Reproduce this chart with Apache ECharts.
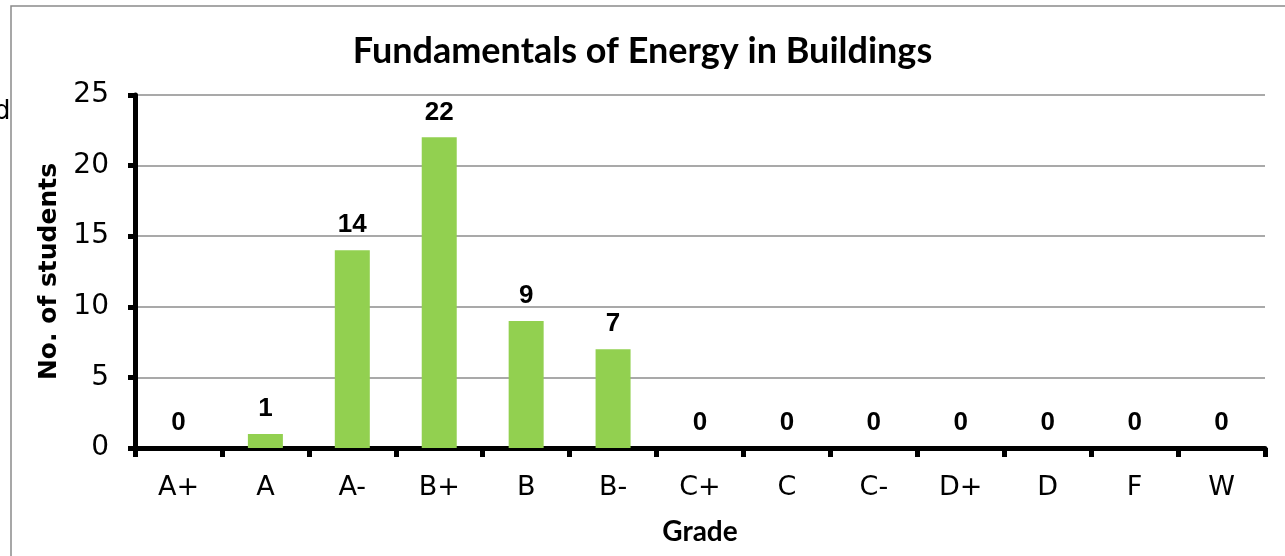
<!DOCTYPE html>
<html><head><meta charset="utf-8">
<script src="https://cdn.jsdelivr.net/npm/echarts@6/dist/echarts.min.js"></script>
<style>html,body{margin:0;padding:0;background:#fff}#c{width:1285px;height:556px}</style>
</head><body><div id="c"></div>
<script>
const categories = ['A+','A','A-','B+','B','B-','C+','C','C-','D+','D','F','W'];
const students = [0,1,14,22,9,7,0,0,0,0,0,0,0];
const yTicks = [0,5,10,15,20,25];
const titleText = 'Fundamentals of Energy in Buildings';
const xName = 'Grade';
const yName = 'No. of students';

const chart = echarts.init(document.getElementById('c'), null, {renderer:'canvas'});
chart.setOption({
  animation:false,
  backgroundColor:'#fff',
  title:{text:titleText,left:'center',top:28,
    textStyle:{fontFamily:'Lato',fontWeight:'bold',fontSize:36,color:'#000'}},
  graphic:[
    {type:'rect',shape:{x:11,y:6,width:1400,height:700},style:{fill:'none',stroke:'#8a8a8a',lineWidth:1.5},z:-1},
    {type:'text',x:-6,y:99,style:{text:'d',font:'26px "DejaVu Sans"',fill:'#000'}}
  ],
  grid:{left:135,right:20,top:95,bottom:108},
  xAxis:{type:'category',data:categories,
    name:xName,nameLocation:'middle',nameGap:70,
    nameTextStyle:{fontFamily:'Lato',fontWeight:'bold',fontSize:28,color:'#000'},
    axisLine:{lineStyle:{color:'#000',width:5}},
    axisTick:{show:true,length:9,lineStyle:{color:'#000',width:5}},
    axisLabel:{color:'#000',fontFamily:'DejaVu Sans',fontSize:27,margin:26}},
  yAxis:{type:'value',min:0,max:25,interval:5,
    name:yName,nameLocation:'middle',nameGap:73,nameRotate:90,
    nameTextStyle:{fontFamily:'DejaVu Sans',fontWeight:'bold',fontSize:25,color:'#000'},
    axisLine:{show:true,lineStyle:{color:'#000',width:5}},
    axisTick:{show:true,length:7,lineStyle:{color:'#000',width:5}},
    axisLabel:{color:'#000',fontFamily:'DejaVu Sans',fontSize:28,margin:26,
      formatter:v=>yTicks.includes(v)?String(v):''},
    splitLine:{lineStyle:{color:'#8c8c8c',width:1.5}}},
  series:[{type:'bar',data:students,barWidth:35,
    itemStyle:{color:'#92D050'},
    label:{show:true,position:'top',distance:12,color:'#000',
      fontFamily:'Liberation Sans',fontWeight:'bold',fontSize:26}}]
});
</script></body></html>
